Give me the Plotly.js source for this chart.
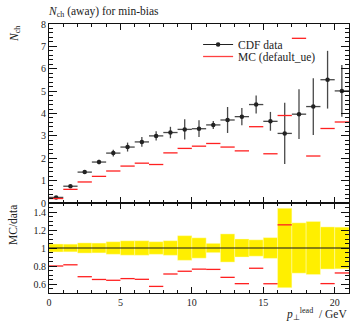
<!DOCTYPE html>
<html>
<head>
<meta charset="utf-8">
<script src="https://cdn.plot.ly/plotly-3.0.1.min.js"></script>
<style>html,body{margin:0;padding:0;background:#fff;}#plot{width:351px;height:322px;}</style>
</head>
<body>
<div id="plot"></div>
<script>
// bin centres of p_T^lead (GeV), bin width 1 GeV
var binCenters = [0.5,1.5,2.5,3.5,4.5,5.5,6.5,7.5,8.5,9.5,10.5,11.5,12.5,13.5,14.5,15.5,16.5,17.5,18.5,19.5,20.5];
var binHalfWidth = 0.5;
// CDF data
var dataY   = [0.25,0.75,1.38,1.83,2.23,2.50,2.73,3.00,3.15,3.29,3.32,3.49,3.71,3.86,4.40,3.65,3.11,3.97,4.31,5.51,5.01];
var dataErr = [0.011,0.032,0.078,0.10,0.155,0.20,0.22,0.21,0.255,0.45,0.375,0.18,0.58,0.386,0.40,0.42,1.37,1.11,1.27,1.29,1.16];
// MC (default_ue)
var mcY     = [0.20,0.61,0.94,1.19,1.43,1.65,1.78,1.72,2.24,2.44,2.54,2.66,2.50,2.33,3.41,2.20,3.91,7.36,2.10,3.33,3.62];
// axis ticks
var topYTicks = [0,1,2,3,4,5,6,7,8];
var ratioYTicks = [0.6,0.8,1,1.2,1.4];
var xTicks = [0,5,10,15,20];

var ratioMC = mcY.map(function(v,i){return v/dataY[i];});
var relErr = dataErr.map(function(e,i){return e/dataY[i];});
var bandBase = relErr.map(function(r){return 1-r;});
var bandHeight = relErr.map(function(r){return 2*r;});
var binEdges = binCenters.map(function(c){return c-binHalfWidth;}).concat([binCenters[binCenters.length-1]+binHalfWidth]);
var ones = binEdges.map(function(){return 1;});

var FONT = 'Liberation Serif, serif';

var traces = [
  // top panel: data
  {x: binCenters, y: dataY, xaxis:'x2', yaxis:'y2', type:'scatter', mode:'markers',
   marker:{color:'#222', size:4.5}, showlegend:false,
   error_y:{type:'data', array:dataErr, visible:true, color:'rgba(40,40,40,0.85)', thickness:1.3, width:0},
   error_x:{type:'constant', value:binHalfWidth, visible:true, color:'rgba(40,40,40,0.85)', thickness:1.3, width:0}},
  // top panel: MC
  {x: binCenters, y: mcY, xaxis:'x2', yaxis:'y2', type:'scatter', mode:'markers',
   marker:{color:'red', size:0.1, opacity:0}, showlegend:false,
   error_x:{type:'constant', value:binHalfWidth, visible:true, color:'#ff2020', thickness:1.3, width:0}},
  // legend entries
  {x:[null], y:[null], xaxis:'x2', yaxis:'y2', type:'scatter', mode:'lines+markers', name:'CDF data',
   line:{color:'#222', width:1}, marker:{color:'#222', size:4.5}, legend:'legend'},
  {x:[null], y:[null], xaxis:'x2', yaxis:'y2', type:'scatter', mode:'lines', name:'MC (default_ue)',
   line:{color:'#ff4040', width:1.3}, legend:'legend2'},
  // ratio panel: yellow band
  {x: binCenters, y: bandHeight, base: bandBase, width: binCenters.map(function(){return 2*binHalfWidth;}),
   type:'bar', xaxis:'x', yaxis:'y', showlegend:false,
   marker:{color:'#ffef00', line:{color:'rgba(255,255,200,0.7)', width:0.6}}},
  // ratio panel: unity line
  {x: binEdges, y: ones, type:'scatter', mode:'lines', xaxis:'x', yaxis:'y', showlegend:false,
   line:{color:'rgba(30,30,30,0.7)', width:1.6}},
  // ratio panel: MC/data
  {x: binCenters, y: ratioMC, xaxis:'x', yaxis:'y', type:'scatter', mode:'markers',
   marker:{color:'red', size:0.1, opacity:0}, showlegend:false,
   error_x:{type:'constant', value:binHalfWidth, visible:true, color:'#ff2020', thickness:1.3, width:0}}
];

var split = 90/269;
var axCommon = {showline:true, linecolor:'#111', linewidth:1, mirror:'allticks', ticks:'inside',
  tickcolor:'#111', showgrid:false, zeroline:false, tickfont:{family:FONT, size:10, color:'#222'}};

function ax(extra){ var o = JSON.parse(JSON.stringify(axCommon)); for (var k in extra) o[k]=extra[k]; return o; }

var legendCommon = {xanchor:'left', yanchor:'top', bgcolor:'rgba(0,0,0,0)',
  font:{family:FONT, size:11.5, color:'#222'}, itemwidth:30};

var layout = {
  width:351, height:322,
  margin:{l:49, r:2, t:24, b:29},
  paper_bgcolor:'#fff', plot_bgcolor:'#fff',
  font:{family:FONT, color:'#222'},
  showlegend:true,
  bargap:0,
  hovermode:false,
  title:{text:'<i>N</i><sub>ch</sub> (away) for min-bias', x:49/351, xanchor:'left', xref:'container',
         y:1-11/322, yanchor:'middle', yref:'container', font:{family:FONT, size:11.5, color:'#222'}},
  legend: Object.assign({x:0.497, y:1-6/269}, legendCommon),
  legend2: Object.assign({x:0.497, y:1-18/269}, legendCommon),
  xaxis: ax({domain:[0,1], anchor:'y', range:[0,21], tickvals:xTicks, ticklen:6,
             minor:{dtick:1, ticklen:3, ticks:'inside', tickcolor:'#111'}}),
  yaxis: ax({domain:[0,split], anchor:'x', range:[0.5,1.5], tickvals:ratioYTicks, ticktext:['0.6','0.8','1','1.2','1.4'], ticklen:8,
             minor:{dtick:0.05, ticklen:4, ticks:'inside', tickcolor:'#111'}}),
  xaxis2: ax({domain:[0,1], anchor:'y2', matches:'x', range:[0,21], tickvals:xTicks, ticklen:6, showticklabels:false,
             minor:{dtick:1, ticklen:3, ticks:'inside', tickcolor:'#111'}}),
  yaxis2: ax({domain:[split,1], anchor:'x2', range:[0,8], tickvals:topYTicks, ticklen:8,
             minor:{dtick:0.2, ticklen:4, ticks:'inside', tickcolor:'#111'}}),
  annotations:[
    {text:'<i>N</i><sub>ch</sub>', xref:'paper', yref:'paper', x:-34/300, y:1, xanchor:'center', yanchor:'top',
     textangle:-90, showarrow:false, font:{family:FONT, size:11.5, color:'#222'}},
    {text:'MC/data', xref:'paper', yref:'paper', x:-36/300, y:split, xanchor:'center', yanchor:'top',
     textangle:-90, showarrow:false, font:{family:FONT, size:11.5, color:'#222'}},
    {text:'<i>p</i><sub>⊥</sub><sup>lead</sup>  / GeV', xref:'paper', yref:'paper', x:1, y:-21/269, xanchor:'right', yanchor:'middle',
     showarrow:false, font:{family:FONT, size:11.5, color:'#222'}}
  ]
};

Plotly.newPlot('plot', traces, layout, {staticPlot:true, displayModeBar:false});
</script>
</body>
</html>
